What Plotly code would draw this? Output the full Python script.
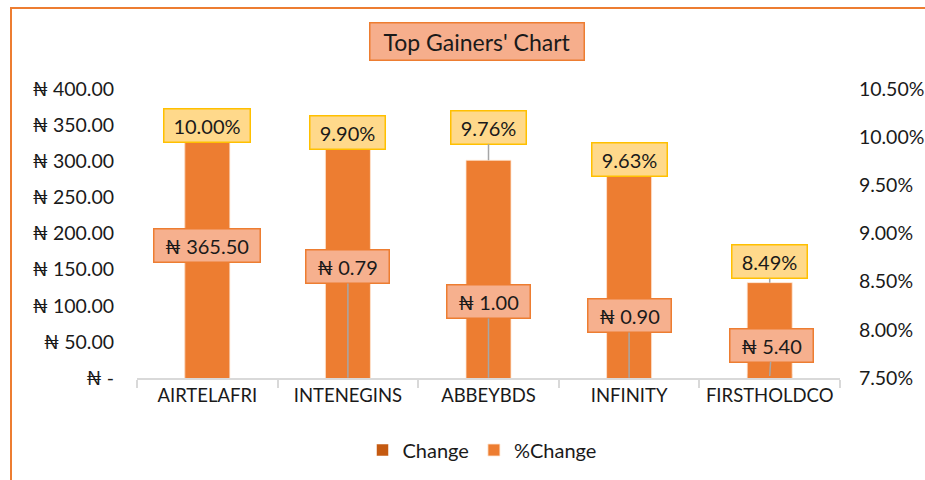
import plotly.graph_objects as go

# ---- data ----
categories = ["AIRTELAFRI", "INTENEGINS", "ABBEYBDS", "INFINITY", "FIRSTHOLDCO"]
change_values = [365.50, 0.79, 1.00, 0.90, 5.40]
pct_change_values = [0.1000, 0.0990, 0.0976, 0.0963, 0.0849]
left_tickvals = [0, 50, 100, 150, 200, 250, 300, 350, 400]
left_ticktext = ["₦ -", "₦ 50.00", "₦ 100.00", "₦ 150.00", "₦ 200.00",
                 "₦ 250.00", "₦ 300.00", "₦ 350.00", "₦ 400.00"]

# ---- label placement (pixel offsets, styling only) ----
change_label_ay = [0, -111, -76, -62, -31]
change_label_ax = [0, 0, 0, 0, 2]
pct_label_ay = [-12, -14, -33, -13, -21]

FONT = "Lato, 'DejaVu Sans', sans-serif"
TXT = "#1a1a1a"
ORANGE = "#ED7D31"
DARK_ORANGE = "#C55A11"

fig = go.Figure()
fig.add_trace(go.Bar(
    name="Change", x=categories, y=change_values, yaxis="y",
    marker=dict(color=DARK_ORANGE, line=dict(color="rgba(255,255,255,0.5)", width=1)),
    hoverinfo="x+y",
))
fig.add_trace(go.Bar(
    name="%Change", x=categories, y=pct_change_values, yaxis="y2",
    marker=dict(color=ORANGE, line=dict(color="rgba(255,230,210,0.8)", width=1)),
    hoverinfo="x+y",
))

annotations = []
# Change labels (centered on Change bar)
for c, v, ax, ay in zip(categories, change_values, change_label_ax, change_label_ay):
    txt = f"₦ {v:,.2f}"
    show_line = abs(ay) > 18
    annotations.append(dict(
        x=c, y=v / 2, xref="x", yref="y", text=txt,
        showarrow=True, arrowhead=0, ax=ax, ay=ay, axref="pixel", ayref="pixel",
        arrowcolor="#A6A6A6" if show_line else "rgba(0,0,0,0)", arrowwidth=1.5,
        bgcolor="#F6B08E", bordercolor=ORANGE, borderwidth=1.5,
        width=11.5 * len(txt) + 11, height=30,
        font=dict(family=FONT, size=20, color=TXT),
    ))
# %Change labels (above %Change bar)
for c, v, ay in zip(categories, pct_change_values, pct_label_ay):
    txt = f"{v*100:.2f}%"
    show_line = abs(ay) > 18
    annotations.append(dict(
        x=c, y=v, xref="x", yref="y2", text=txt,
        showarrow=True, arrowhead=0, ax=0, ay=ay, axref="pixel", ayref="pixel",
        arrowcolor="#A6A6A6" if show_line else "rgba(0,0,0,0)", arrowwidth=1.5,
        bgcolor="#FFD98B", bordercolor="#FFC000", borderwidth=1.5,
        width=11 * len(txt) + 17, height=30,
        font=dict(family=FONT, size=20, color=TXT),
    ))
# Title box
annotations.append(dict(
    x=(477 - 137) / 703, y=(378 - 42) / 289, xref="paper", yref="paper",
    text="Top Gainers' Chart", showarrow=False,
    bgcolor="#F6AE8C", bordercolor=ORANGE, borderwidth=1.5,
    width=211, height=34, xanchor="center", yanchor="middle",
    font=dict(family=FONT, size=23, color=TXT),
))

fig.update_layout(
    width=925, height=480,
    margin=dict(l=137, r=85, t=89, b=102, autoexpand=False),
    paper_bgcolor="white", plot_bgcolor="white",
    barmode="overlay", bargap=0.68,
    font=dict(family=FONT, size=19, color=TXT),
    showlegend=True,
    legend=dict(orientation="h", x=(482 - 137) / 703, y=(378 - 450) / 289,
                xanchor="center", yanchor="middle",
                font=dict(family=FONT, size=20, color=TXT),
                itemwidth=30, traceorder="normal"),
    xaxis=dict(
        showline=True, linecolor="#D9D9D9", linewidth=2,
        ticks="outside", tickson="boundaries", ticklen=8, tickcolor="#D9D9D9", tickwidth=2,
        showgrid=False, tickangle=0, automargin=False,
        tickfont=dict(family=FONT, size=18.5, color=TXT),
        fixedrange=True,
    ),
    yaxis=dict(
        range=[0, 400], tickvals=left_tickvals, ticktext=left_ticktext,
        showgrid=False, zeroline=False, showline=False, automargin=False,
        ticks="outside", ticklen=18, tickcolor="rgba(0,0,0,0)",
        tickfont=dict(family=FONT, size=19.5, color=TXT),
    ),
    yaxis2=dict(
        range=[0.075, 0.105], dtick=0.005, tickformat=".2%",
        overlaying="y", side="right", showgrid=False, zeroline=False, showline=False,
        automargin=False,
        ticks="outside", ticklen=14, tickcolor="rgba(0,0,0,0)",
        tickfont=dict(family=FONT, size=19.5, color=TXT),
    ),
    annotations=annotations,
    shapes=[dict(
        type="rect", xref="paper", yref="paper",
        x0=(11 - 137) / 703, x1=(940 - 137) / 703,
        y0=(378 - 500) / 289, y1=(378 - 8) / 289,
        line=dict(color=ORANGE, width=2), fillcolor="rgba(0,0,0,0)", layer="below",
    )],
)

fig.write_html(
    "out.html",
    config={"displayModeBar": False},
    post_script="document.body.style.margin='0';document.body.style.overflow='hidden';",
)
